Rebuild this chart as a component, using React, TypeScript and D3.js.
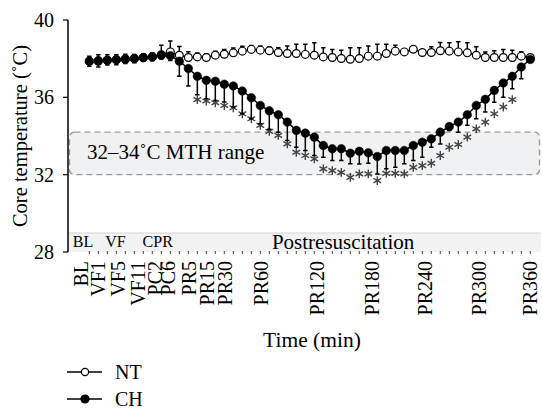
import React, { useRef, useEffect } from "react";
import * as d3 from "d3";

// mean core temperature per time point (50 points, evenly spaced on the axis)
const ntMean = [37.87, 37.9, 37.92, 37.95, 37.98, 38.0, 38.05, 38.1, 38.2, 38.35, 38.18, 38.06, 38.09, 38.06, 38.18, 38.23, 38.3, 38.39, 38.48, 38.44, 38.41, 38.32, 38.27, 38.27, 38.22, 38.18, 38.09, 38.06, 38.01, 37.97, 38.01, 38.13, 38.13, 38.27, 38.39, 38.35, 38.49, 38.32, 38.32, 38.41, 38.39, 38.35, 38.3, 38.18, 38.06, 38.06, 38.06, 38.06, 38.13, 38.06];
const ntErr = [0.26, 0.3, 0.28, 0.25, 0.25, 0.22, 0.2, 0.2, 0.5, 0.57, 0.45, 0.3, 0.2, 0.2, 0.2, 0.25, 0.25, 0.25, 0.2, 0.22, 0.2, 0.24, 0.38, 0.47, 0.52, 0.64, 0.47, 0.42, 0.43, 0.59, 0.55, 0.52, 0.61, 0.47, 0.31, 0.1, 0.1, 0.1, 0.29, 0.42, 0.43, 0.52, 0.52, 0.43, 0.29, 0.35, 0.42, 0.38, 0.23, 0.1];
const chMean = [37.87, 37.87, 37.92, 37.94, 37.97, 38.01, 38.06, 38.09, 38.18, 38.15, 37.87, 37.49, 37.09, 36.88, 36.83, 36.68, 36.59, 36.33, 35.98, 35.58, 35.3, 35.1, 34.72, 34.29, 34.15, 33.94, 33.51, 33.34, 33.34, 33.11, 33.21, 33.13, 32.94, 33.25, 33.25, 33.25, 33.51, 33.68, 33.85, 34.2, 34.49, 34.72, 35.1, 35.58, 35.9, 36.36, 36.74, 37.09, 37.57, 37.96];
const chErr = [0.26, 0.3, 0.25, 0.25, 0.22, 0.22, 0.2, 0.2, 0.2, 0.25, 0.78, 0.9, 0.95, 0.95, 1.0, 0.92, 1.09, 1.18, 1.09, 0.95, 0.95, 0.9, 0.95, 0.87, 0.9, 0.95, 0.61, 0.61, 0.61, 0.55, 0.66, 0.54, 0.9, 0.95, 0.87, 0.69, 0.78, 0.78, 0.43, 0.61, 0.21, 0.52, 0.55, 0.69, 0.66, 0.61, 0.73, 0.64, 0.61, 0.15];

// significance markers (*) from point 12 to 47
const sigStart = 12;
const sigLevel = [35.88, 35.81, 35.72, 35.58, 35.46, 35.15, 34.89, 34.55, 34.24, 34.03, 33.59, 33.16, 32.99, 32.82, 32.3, 32.21, 32.12, 31.86, 32.04, 32.04, 31.69, 32.07, 32.07, 32.04, 32.38, 32.47, 32.59, 32.99, 33.42, 33.56, 33.94, 34.37, 34.72, 35.15, 35.5, 35.88];

const tickNames = ["BL", "VF1", "VF5", "VF11", "PC2", "PC6", "PR5", "PR15", "PR30", "PR60", "PR120", "PR180", "PR240", "PR300", "PR360"];
const tickPos = [-0.9, 1.05, 3.2, 5.4, 7.35, 8.75, 11.1, 13.1, 15.1, 19.1, 25.3, 31.4, 37.3, 43.3, 49.05];

const phaseNames = ["BL", "VF", "CPR", "Postresuscitation"];
const phasePos = [-0.7, 2.9, 7.6, 28.2];

const yTicks = [28, 32, 36, 40];
const mthRange = [32, 34.2];

const serif = "'Liberation Serif', 'Times New Roman', serif";

export default function App() {
    const ref = useRef<SVGSVGElement>(null);

    useEffect(() => {
        if (!ref.current) return;
        const svg = d3.select(ref.current);
        svg.selectAll("*").remove();
        svg.attr("font-family", serif);

        const x = d3.scaleLinear().domain([-2.37, 50.19]).range([68, 541]);
        const y = d3.scaleLinear().domain([28, 40]).range([252, 20]);
        const idx = d3.range(chMean.length);

        // MTH range box
        svg.append("rect")
            .attr("x", x(-2.37) + 1.5).attr("y", y(mthRange[1]))
            .attr("width", x(50.19) - x(-2.37) - 3).attr("height", y(mthRange[0]) - y(mthRange[1]))
            .attr("rx", 5)
            .attr("fill", "#eff1f2")
            .attr("stroke", "#9a9a9a").attr("stroke-width", 1.4).attr("stroke-dasharray", "6,4");
        svg.append("text")
            .attr("x", 87).attr("y", 158.5)
            .attr("font-size", 21)
            .attr("font-family", serif)
            .text("32–34˚C MTH range");

        // phase band along the bottom
        const band = svg.append("g");
        band.append("rect")
            .attr("x", x(-2.37)).attr("y", y(28) - 19)
            .attr("width", x(50.19) - x(-2.37)).attr("height", 19)
            .attr("fill", "#f1f2f3");
        band.append("line")
            .attr("x1", x(-2.37)).attr("x2", x(50.19))
            .attr("y1", y(28) - 19).attr("y2", y(28) - 19)
            .attr("stroke", "#d4d4d4");
        band.selectAll("text")
            .data(phaseNames)
            .join("text")
            .attr("x", (d, i) => x(phasePos[i]))
            .attr("y", (d, i) => y(28) - (i === 3 ? 3.5 : 5))
            .attr("text-anchor", "middle")
            .attr("font-size", (d, i) => i === 3 ? 21 : 16)
            .text(d => d);

        // x ticks (one per time point) and labels
        svg.append("g")
            .attr("stroke", "#444")
            .selectAll("line")
            .data(idx)
            .join("line")
            .attr("x1", d => x(d)).attr("x2", d => x(d))
            .attr("y1", y(28) - 1).attr("y2", y(28) + 2);
        svg.append("g")
            .attr("font-size", 20)
            .selectAll("text")
            .data(tickNames)
            .join("text")
            .attr("transform", (d, i) => `translate(${x(tickPos[i])},261) rotate(-90)`)
            .attr("text-anchor", "end")
            .attr("dy", "0.33em")
            .text(d => d);

        // y axis
        svg.append("line")
            .attr("x1", 68).attr("x2", 68)
            .attr("y1", y(40)).attr("y2", y(28))
            .attr("stroke", "#000").attr("stroke-width", 1.5);
        const yt = svg.append("g");
        yt.selectAll("line")
            .data(yTicks)
            .join("line")
            .attr("x1", 63).attr("x2", 68)
            .attr("y1", d => y(d)).attr("y2", d => y(d))
            .attr("stroke", "#000").attr("stroke-width", 1.2);
        yt.selectAll("text")
            .data(yTicks)
            .join("text")
            .attr("x", 54).attr("y", d => y(d))
            .attr("dy", "0.35em").attr("text-anchor", "end")
            .attr("font-size", 20)
            .text(d => d);

        svg.append("text")
            .attr("transform", "translate(20,136) rotate(-90)")
            .attr("text-anchor", "middle").attr("dy", "0.35em")
            .attr("font-size", 20.5)
            .text("Core temperature (˚C)");
        svg.append("text")
            .attr("x", 312).attr("y", 347)
            .attr("text-anchor", "middle")
            .attr("font-size", 21.5)
            .text("Time (min)");

        // asterisks
        svg.append("g")
            .attr("stroke", "#444").attr("stroke-width", 1.4).attr("fill", "none")
            .selectAll("path")
            .data(sigLevel)
            .join("path")
            .attr("transform", (d, i) => `translate(${x(i + sigStart)},${y(d)})`)
            .attr("d", d3.symbol(d3.symbolAsterisk, 55)());

        const line = d3.line<number>().x((d, i) => x(i)).y(d => y(d));

        const drawSeries = (mean: number[], err: number[], dir: number, filled: boolean) => {
            const g = svg.append("g");
            g.append("g")
                .attr("stroke", "#000").attr("stroke-width", 1.5)
                .selectAll("path")
                .data(idx)
                .join("path")
                .attr("d", i => {
                    const y0 = y(mean[i]), y1 = y(mean[i] + dir * err[i]), cx = x(i);
                    return `M${cx},${y0}V${y1}M${cx - 2.2},${y1}H${cx + 2.2}`;
                });
            g.append("path")
                .datum(mean)
                .attr("fill", "none").attr("stroke", "#000").attr("stroke-width", 1.5)
                .attr("d", line);
            g.append("g")
                .selectAll("circle")
                .data(mean)
                .join("circle")
                .attr("cx", (d, i) => x(i)).attr("cy", d => y(d))
                .attr("r", filled ? 4.3 : 3.9)
                .attr("fill", filled ? "#000" : "#fff")
                .attr("stroke", "#000").attr("stroke-width", filled ? 0.5 : 1.2);
        };
        drawSeries(ntMean, ntErr, 1, false);
        drawSeries(chMean, chErr, -1, true);

        // legend
        const legend = svg.append("g");
        [["NT", false], ["CH", true]].forEach(([name, filled], i) => {
            const ly = 372 + i * 27;
            legend.append("line")
                .attr("x1", 67).attr("x2", 102).attr("y1", ly).attr("y2", ly)
                .attr("stroke", "#000").attr("stroke-width", 1.6);
            legend.append("circle")
                .attr("cx", 85).attr("cy", ly).attr("r", filled ? 4 : 3.6)
                .attr("fill", filled ? "#000" : "#fff")
                .attr("stroke", "#000").attr("stroke-width", 1.2);
            legend.append("text")
                .attr("x", 115).attr("y", ly).attr("dy", "0.35em")
                .attr("font-size", 20)
                .text(name as string);
        });
    }, []);

    return (
        <svg
            ref={ref}
            width={542}
            height={410}
            style={{ position: "absolute", left: 0, top: 0, background: "#fff" }}
        />
    );
}
